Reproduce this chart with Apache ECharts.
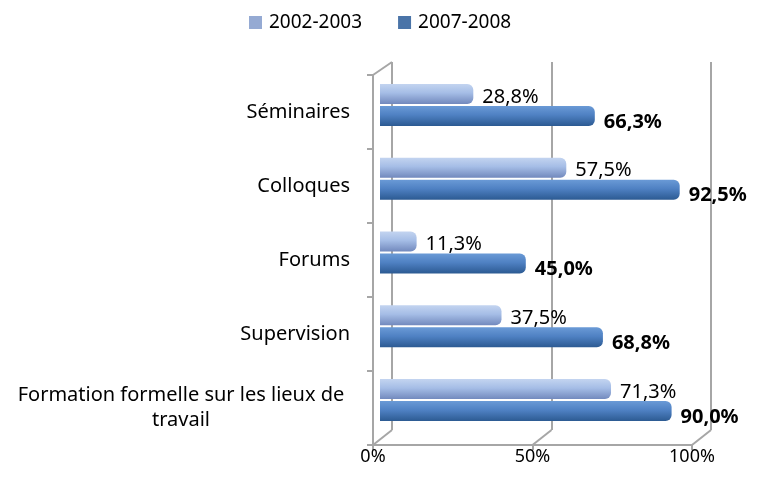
<!DOCTYPE html>
<html>
<head>
<meta charset="utf-8">
<script src="https://cdn.jsdelivr.net/npm/echarts@6/dist/echarts.min.js"></script>
<style>
  html, body { margin: 0; padding: 0; background: #fff; }
  #chart { width: 762px; height: 495px; }
</style>
</head>
<body>
<div id="chart"></div>
<script>
var categories = ['Séminaires', 'Colloques', 'Forums', 'Supervision', 'Formation formelle sur les lieux de travail']
var series2002 = [28.8, 57.5, 11.3, 37.5, 71.3]
var series2007 = [66.3, 92.5, 45.0, 68.8, 90.0]
var xTicks = [0, 50, 100]

var font = 'Noto Sans'
var gray = '#a6a6a6'

function fmt(v) {
  return v.toFixed(1).replace('.', ',') + '%'
}

function barColor(top, mid, bottom) {
  return new echarts.graphic.LinearGradient(0, 0, 0, 1, [
    { offset: 0, color: top },
    { offset: 0.45, color: mid },
    { offset: 1, color: bottom }
  ])
}

var chart = echarts.init(document.getElementById('chart'))

chart.setOption({
  animation: false,
  textStyle: { fontFamily: font },
  legend: {
    top: 8,
    left: 244,
    itemWidth: 13,
    itemHeight: 13,
    itemGap: 36,
    icon: 'rect',
    textStyle: { fontFamily: font, fontSize: 19, color: '#000', padding: [0, 0, 0, 2] },
    data: [
      { name: '2002-2003', itemStyle: { color: '#95aad3' } },
      { name: '2007-2008', itemStyle: { color: '#4a74a8' } }
    ]
  },
  grid: [
    // bars
    { left: 380, right: 58, top: 68, bottom: 58 },
    // back wall
    { left: 392, right: 51, top: 62, bottom: 65 },
    // front edges and labels
    { left: 373, right: 70, top: 75, bottom: 50 }
  ],
  xAxis: [
    { gridIndex: 0, type: 'value', min: 0, max: 100, show: false },
    {
      gridIndex: 1, type: 'value', min: 0, max: 100, interval: 50,
      axisLine: { show: false }, axisTick: { show: false }, axisLabel: { show: false },
      splitLine: { show: true, lineStyle: { color: gray, width: 2 } }
    },
    {
      gridIndex: 2, type: 'value', min: 0, max: 100, interval: 50,
      splitLine: { show: false },
      axisLine: { show: true, lineStyle: { color: gray, width: 2 } },
      axisTick: { show: true, length: 5, lineStyle: { color: gray, width: 2 } },
      axisLabel: {
        margin: 3, fontSize: 18, color: '#000', fontFamily: font,
        formatter: function (v) { return xTicks.indexOf(v) >= 0 ? v + '%' : '' }
      }
    }
  ],
  yAxis: [
    { gridIndex: 0, type: 'category', data: categories, inverse: true, show: false },
    { gridIndex: 1, type: 'category', data: categories, inverse: true, show: false },
    {
      gridIndex: 2, type: 'category', data: categories, inverse: true,
      axisLine: { show: true, lineStyle: { color: gray, width: 2 } },
      axisTick: { show: true, length: 6, lineStyle: { color: gray, width: 2 } },
      axisLabel: {
        margin: 23, fontSize: 20, color: '#000', fontFamily: font,
        formatter: function (v) {
          if (v.length > 20) {
            return '{c|Formation formelle sur les lieux de}\n{c|travail}'
          }
          return v
        },
        rich: {
          c: { width: 338, align: 'center', fontSize: 20, fontFamily: font, color: '#000', lineHeight: 25 }
        }
      }
    }
  ],
  series: [
    {
      name: '2002-2003',
      type: 'bar',
      xAxisIndex: 0,
      yAxisIndex: 0,
      data: series2002,
      barWidth: 20,
      barGap: '10%',
      itemStyle: {
        color: barColor('#c3d4f0', '#a5bde6', '#7289bd'),
        borderRadius: [0, 6, 6, 0]
      },
      label: {
        show: true, position: 'right', distance: 9, offset: [0, 3],
        fontSize: 20, color: '#000', fontFamily: font,
        formatter: function (p) { return fmt(p.value) }
      }
    },
    {
      name: '2007-2008',
      type: 'bar',
      xAxisIndex: 0,
      yAxisIndex: 0,
      data: series2007,
      barWidth: 20,
      itemStyle: {
        color: barColor('#6a9ad6', '#4f81c3', '#2c5a92'),
        borderRadius: [0, 6, 6, 0]
      },
      label: {
        show: true, position: 'right', distance: 9, offset: [0, 6],
        fontSize: 20, fontWeight: 'bold', color: '#000', fontFamily: font,
        formatter: function (p) { return fmt(p.value) }
      }
    }
  ],
  graphic: [
    { type: 'line', silent: true, shape: { x1: 373, y1: 75, x2: 392, y2: 62 }, style: { stroke: gray, lineWidth: 2 } },
    { type: 'line', silent: true, shape: { x1: 373, y1: 445, x2: 392, y2: 430 }, style: { stroke: gray, lineWidth: 2 } },
    { type: 'line', silent: true, shape: { x1: 532.5, y1: 445, x2: 551.5, y2: 430 }, style: { stroke: gray, lineWidth: 2 } },
    { type: 'line', silent: true, shape: { x1: 692, y1: 445, x2: 711, y2: 430 }, style: { stroke: gray, lineWidth: 2 } }
  ]
})
</script>
</body>
</html>
